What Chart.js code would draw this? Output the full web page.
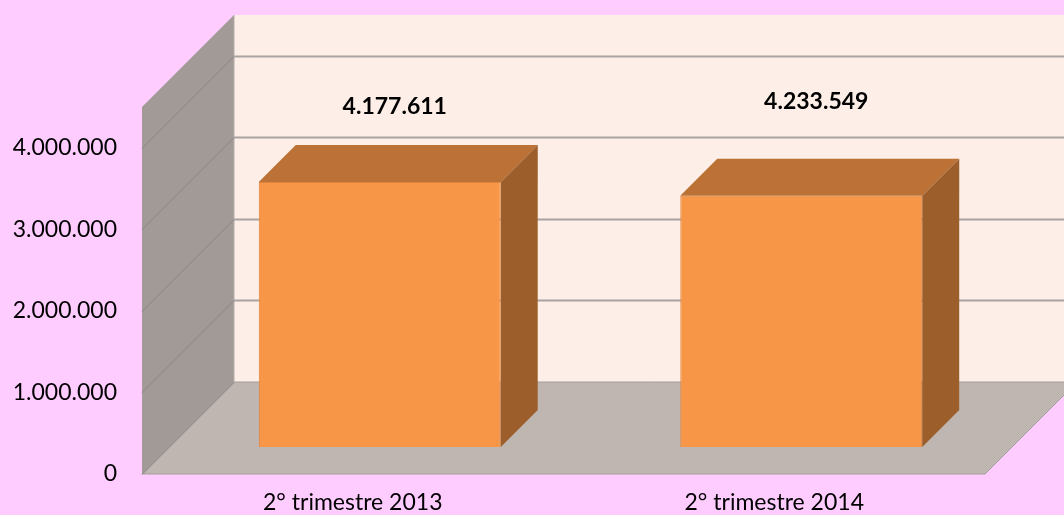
<!DOCTYPE html>
<html>
<head>
<meta charset="utf-8">
<script src="https://cdn.jsdelivr.net/npm/chart.js@4"></script>
<style>
  html, body { margin: 0; padding: 0; background: #FFCCFF; }
  #wrap { width: 1064px; height: 515px; }
</style>
</head>
<body>
<div id="wrap"><canvas id="chart" width="1064" height="515"></canvas></div>
<script>
// Data
const categories = ['2° trimestre 2013', '2° trimestre 2014'];
// bar heights as they stand against the axis in the picture
const barHeights = [3250000, 3080000];
// values printed above the bars
const labelValues = [4177611, 4233549];
const yTicks = [0, 1000000, 2000000, 3000000, 4000000];

// 3D look: wall depth, bar front offset, bar depth (px)
const DEPTH = 92;
const FRONT = 27;
const BAR_DEPTH = 37;

function fmt(n) {
  return String(n).replace(/\B(?=(\d{3})+(?!\d))/g, '.');
}

const room3d = {
  id: 'room3d',
  beforeDatasetsDraw(chart) {
    const ctx = chart.ctx;
    const a = chart.chartArea;
    const y = chart.scales.y;
    const L = a.left, R = a.right, T = a.top, B = a.bottom, D = DEPTH;

    ctx.save();
    // back wall
    ctx.fillStyle = '#FDEFE7';
    ctx.fillRect(L + D, T - D, R - L, B - T);
    // side wall
    ctx.fillStyle = '#A19A96';
    ctx.beginPath();
    ctx.moveTo(L, T); ctx.lineTo(L + D, T - D); ctx.lineTo(L + D, B - D); ctx.lineTo(L, B);
    ctx.closePath(); ctx.fill();
    // floor
    ctx.fillStyle = '#BFB6B1';
    ctx.beginPath();
    ctx.moveTo(L, B); ctx.lineTo(R, B); ctx.lineTo(R + D, B - D); ctx.lineTo(L + D, B - D);
    ctx.closePath(); ctx.fill();
    ctx.strokeStyle = '#A49D99';
    ctx.lineWidth = 1;
    ctx.stroke();
    // wall corner
    ctx.strokeStyle = '#B3ADA9';
    ctx.beginPath(); ctx.moveTo(L + D, T - D); ctx.lineTo(L + D, B - D); ctx.stroke();

    // gridlines
    yTicks.forEach(v => {
      const py = Math.round(y.getPixelForValue(v)) + 0.5;
      ctx.strokeStyle = '#8C8682';
      ctx.lineWidth = 1;
      ctx.beginPath(); ctx.moveTo(L, py); ctx.lineTo(L + D, py - D); ctx.stroke();
      if (v > 0) {
        ctx.strokeStyle = '#A9A4A1';
        ctx.lineWidth = 2;
        ctx.beginPath(); ctx.moveTo(L + D, py - D); ctx.lineTo(R + D, py - D); ctx.stroke();
      }
    });

    // bar tops and sides
    chart.getDatasetMeta(0).data.forEach(el => {
      const x1 = el.x - el.width / 2 + FRONT;
      const x2 = el.x + el.width / 2 + FRONT;
      const top = el.y - FRONT;
      const bot = el.base - FRONT;
      ctx.fillStyle = '#BC7236';
      ctx.beginPath();
      ctx.moveTo(x1, top); ctx.lineTo(x1 + BAR_DEPTH, top - BAR_DEPTH);
      ctx.lineTo(x2 + BAR_DEPTH, top - BAR_DEPTH); ctx.lineTo(x2, top);
      ctx.closePath(); ctx.fill();
      ctx.fillStyle = '#9C5F2B';
      ctx.beginPath();
      ctx.moveTo(x2, top); ctx.lineTo(x2 + BAR_DEPTH, top - BAR_DEPTH);
      ctx.lineTo(x2 + BAR_DEPTH, bot - BAR_DEPTH); ctx.lineTo(x2, bot);
      ctx.closePath(); ctx.fill();
    });
    ctx.restore();

    // front faces are drawn by Chart.js, pushed back into the room
    ctx.save();
    ctx.translate(FRONT, -FRONT);
  },
  afterDatasetsDraw(chart) {
    const ctx = chart.ctx;
    ctx.restore();
    const y = chart.scales.y;
    ctx.save();
    ctx.font = 'bold 23px Lato';
    ctx.fillStyle = '#000';
    ctx.textAlign = 'center';
    ctx.textBaseline = 'middle';
    chart.getDatasetMeta(0).data.forEach((el, i) => {
      ctx.fillText(fmt(labelValues[i]), el.x + FRONT + 15, y.getPixelForValue(labelValues[i]) - FRONT);
    });
    ctx.restore();
  }
};

new Chart(document.getElementById('chart'), {
  type: 'bar',
  data: {
    labels: categories,
    datasets: [{
      data: barHeights,
      backgroundColor: '#F79646',
      borderColor: '#E0823A',
      borderWidth: 1,
      barPercentage: 0.574,
      categoryPercentage: 1,
      clip: false
    }]
  },
  options: {
    responsive: false,
    devicePixelRatio: 1,
    animation: false,
    layout: { padding: { left: 0, top: 107, right: 79, bottom: 0 } },
    plugins: { legend: { display: false }, tooltip: { enabled: false } },
    scales: {
      x: {
        grid: { display: false, drawTicks: false },
        border: { display: false },
        ticks: { color: '#000', font: { family: 'Lato', size: 23 }, padding: 15, maxRotation: 0 },
        afterFit: s => { s.height = 41; }
      },
      y: {
        min: 0,
        max: 4500000,
        grid: { display: false, drawTicks: false },
        border: { display: false },
        afterBuildTicks: s => { s.ticks = yTicks.map(v => ({ value: v })); },
        ticks: { color: '#000', font: { family: 'Lato', size: 23 }, padding: 25, callback: v => fmt(v) },
        afterFit: s => { s.width = 142; }
      }
    }
  },
  plugins: [room3d]
});
</script>
</body>
</html>
